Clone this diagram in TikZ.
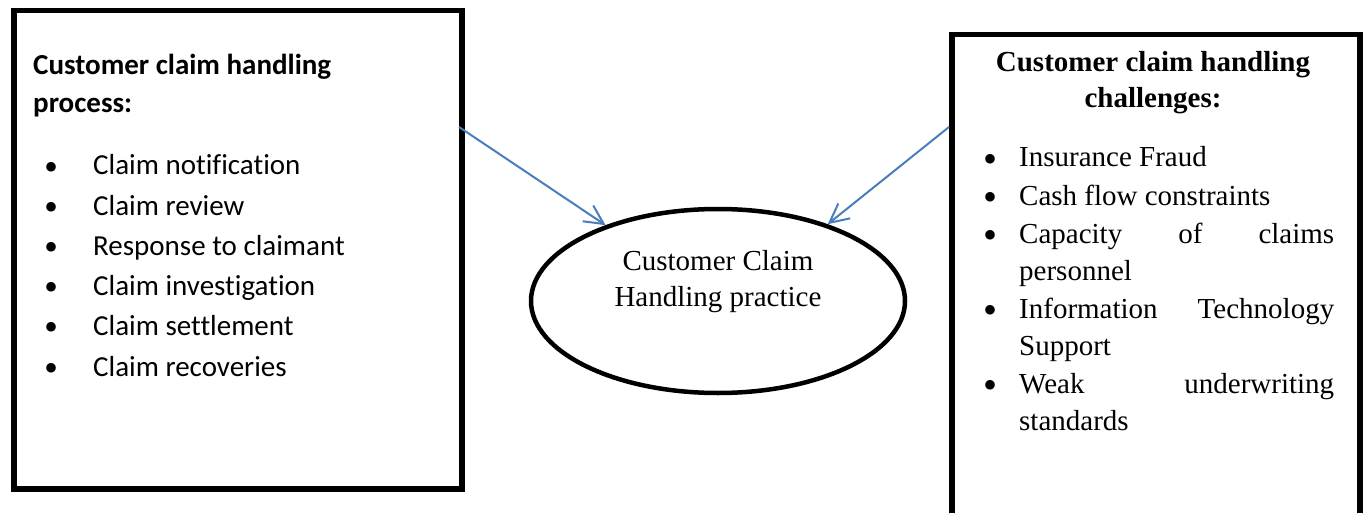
\documentclass[tikz,border=0pt]{standalone}
\usepackage{fontspec}
\setmainfont{Liberation Serif}
\newfontfamily\calibri[Ligatures={NoCommon,NoRequired,NoContextual,NoDiscretionary}]{Carlito}
\usetikzlibrary{arrows.meta,shapes.geometric}
\definecolor{flowblue}{RGB}{74,126,187}
\tikzset{
  frame/.style={draw=black, line width=5.5pt, rectangle, inner sep=0pt, anchor=north west},
  lhead/.style={anchor=base west, inner sep=0pt, font=\calibri\bfseries\fontsize{29}{36}\selectfont},
  litem/.style={anchor=base west, inner sep=0pt, font=\calibri\fontsize{29}{36}\selectfont},
  rhead/.style={anchor=base, inner sep=0pt, font=\bfseries\fontsize{29}{36}\selectfont},
  ritem/.style={anchor=base west, inner sep=0pt, font=\fontsize{29}{36}\selectfont},
  bul/.style={anchor=base, inner sep=0pt, font=\fontsize{40}{40}\selectfont},
  flow/.style={draw=flowblue, line width=2pt, -{Straight Barb[length=19pt,width=19pt]}},
}
\begin{document}
\begin{tikzpicture}[x=1pt,y=-1pt]
\useasboundingbox (0,0) rectangle (1364,513);
% frames
\node[frame, minimum width=448pt, minimum height=478pt] (process) at (11,8) {};
\node[frame, minimum width=408pt, minimum height=500pt] (challenges) at (949,32) {};
\node[draw=black, ellipse, line width=4.5pt, minimum width=374pt, minimum height=184pt, inner sep=0pt] (practice) at (718,301) {};
\node[align=center, inner sep=0pt, font=\fontsize{29}{36}\selectfont] (practicetext) at (718,282) {Customer Claim\\Handling practice};
% left
\node[lhead] (lh1) at (33,75) {Customer claim handling};
\node[lhead] (lh2) at (33,113) {process:};
\foreach \t [count=\i] in {Claim notification, Claim review, Response to claimant, Claim investigation, Claim settlement, Claim recoveries}{
  \pgfmathsetmacro\yy{175+40.2*(\i-1)}
  \node[litem] (li\i) at (93,\yy) {\t};
  \node[bul] (lb\i) at (52,\yy+5) {•};
}
% right
\node[rhead] (rh1) at (1153,72) {Customer claim handling};
\node[rhead] (rh2) at (1153,108) {challenges:};
\node[ritem] (ri1) at (1019,167) {Insurance Fraud};
\node[ritem] (ri2) at (1019,205) {Cash flow constraints};
\node[ritem] (ri3) at (1019,243) {\makebox[315pt][s]{Capacity of claims}};
\node[ritem] (ri3b) at (1019,280) {personnel};
\node[ritem] (ri4) at (1019,318) {\makebox[315pt][s]{Information Technology}};
\node[ritem] (ri4b) at (1019,355) {Support};
\node[ritem] (ri5) at (1019,393) {\makebox[315pt][s]{Weak underwriting}};
\node[ritem] (ri5b) at (1019,430) {standards};
\foreach \yy [count=\i] in {167,205,243,318,393}{
  \node[bul] (rb\i) at (990,\yy+5) {•};
}
% arrows
\coordinate (s1) at (459,127);
\coordinate (s2) at (949,127);
\draw[flow] (s1) -- (practice.146);
\draw[flow] (s2) -- (practice.35);
\end{tikzpicture}
\end{document}
